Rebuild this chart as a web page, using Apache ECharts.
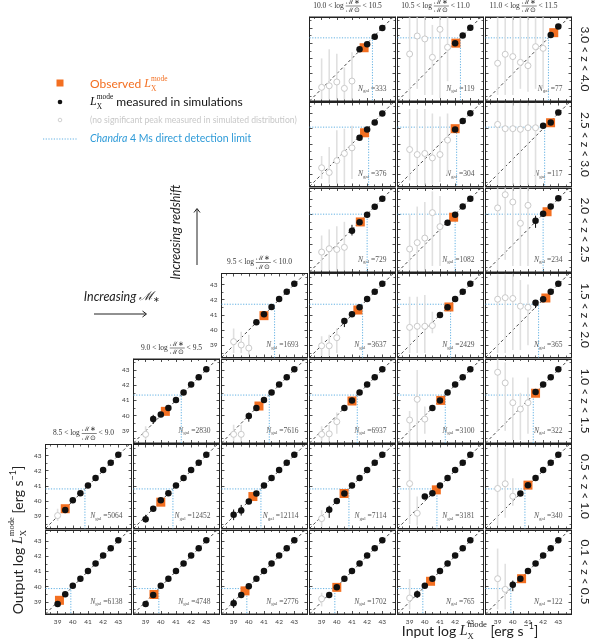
<!DOCTYPE html>
<html>
<head>
<meta charset="utf-8">
<script src="https://cdn.jsdelivr.net/npm/echarts@6/dist/echarts.min.js"></script>
<style>
html, body { margin: 0; padding: 0; background: #fff; }
#chart { width: 598px; height: 642px; }
</style>
</head>
<body>
<div id="chart"></div>
<script>
const _ = null

// input luminosities of the fake sources (log erg/s)
const inputL = [39, 39.5, 40, 40.5, 41, 41.5, 42, 42.5, 43]

// columns = stellar mass bins, rows = redshift bins (top to bottom)
const massBins = [['8.5', '9.0'], ['9.0', '9.5'], ['9.5', '10.0'], ['10.0', '10.5'], ['10.5', '11.0'], ['11.0', '11.5']]
const zBins = ['3.0 < z < 4.0', '2.5 < z < 3.0', '2.0 < z < 2.5', '1.5 < z < 2.0', '1.0 < z < 1.5', '0.5 < z < 1.0', '0.1 < z < 0.5']
// Chandra 4 Ms detection limit for each redshift row
const detLimit = [42.35, 42.1, 42.0, 41.7, 41.35, 40.8, 39.87]

// panels as [column, row]
const panelCells = [
  [0, 5], [0, 6],
  [1, 4], [1, 5], [1, 6],
  [2, 3], [2, 4], [2, 5], [2, 6],
  [3, 0], [3, 1], [3, 2], [3, 3], [3, 4], [3, 5], [3, 6],
  [4, 0], [4, 1], [4, 2], [4, 3], [4, 4], [4, 5], [4, 6],
  [5, 0], [5, 1], [5, 2], [5, 3], [5, 4], [5, 5], [5, 6]
]

const nGal = [5064, 6138, 2830, 12452, 4748, 1693, 7616, 12114, 2776,
  333, 376, 729, 3637, 6937, 7114, 1702,
  119, 304, 1082, 2429, 3100, 3181, 765,
  77, 117, 234, 365, 322, 340, 122]

// observed mode (orange squares)
const obsX = [39.5, 39.12, 40.3, 40.0, 39.55, 41.0, 40.67, 40.27, 39.75,
  41.8, 41.83, 41.55, 41.39, 41.0, 40.48, 40.0,
  42.05, 42.0, 41.9, 41.59, 41.05, 40.76, 40.38,
  42.7, 42.49, 42.26, 42.18, 41.5, 41.0, 40.58]
const obsY = [39.5, 39.1, 40.28, 39.93, 39.48, 40.95, 40.63, 40.3, 39.72,
  41.7, 41.73, 41.49, 41.32, 40.96, 40.5, 39.95,
  42.0, 42.0, 41.8, 41.52, 41.0, 40.74, 40.35,
  42.69, 42.39, 42.16, 42.11, 41.47, 41.05, 40.52]

// output mode measured in simulations (black), one value per inputL
const simOut = [
  [_, 39.42, 40.05, 40.52, 41.03, 41.52, 42.05, 42.52, 43.05],
  [38.85, 39.5, 40.05, 40.52, 41.03, 41.52, 42.05, 42.52, 43.05],
  [_, 39.78, 40.07, 40.5, 41.03, 41.52, 42.05, 42.52, 43.05],
  [38.8, 39.5, 40.05, 40.52, 41.03, 41.52, 42.05, 42.52, 43.05],
  [38.85, 39.45, 40.05, 40.52, 41.03, 41.52, 42.05, 42.52, 43.05],
  [_, _, _, 40.51, 41.05, 41.52, 42.05, 42.52, 43.05],
  [_, _, 39.97, 40.5, 41.03, 41.52, 42.05, 42.52, 43.05],
  [39.1, 39.38, 39.97, 40.5, 41.03, 41.52, 42.05, 42.52, 43.05],
  [38.9, 39.45, 40.03, 40.52, 41.03, 41.52, 42.05, 42.52, 43.05],
  [_, _, _, _, _, 41.6, 41.93, 42.42, 43.0],
  [_, _, _, _, _, 41.4, 41.95, 42.4, 43.0],
  [_, _, _, _, 40.91, 41.47, 41.97, 42.48, 43.02],
  [_, _, _, 40.6, 41.05, 41.5, 42.05, 42.52, 43.05],
  [_, _, _, 40.5, 41.0, 41.52, 42.05, 42.52, 43.05],
  [_, 39.43, 40.0, 40.5, 41.03, 41.52, 42.05, 42.52, 43.05],
  [_, 39.45, 39.95, 40.52, 41.03, 41.52, 42.05, 42.52, 43.05],
  [_, _, _, _, _, _, 41.99, 42.5, 43.02],
  [_, _, _, _, _, _, 41.95, 42.5, 43.02],
  [_, _, _, _, _, 41.44, 41.97, 42.5, 43.02],
  [_, _, _, _, 41.0, 41.5, 42.05, 42.52, 43.05],
  [_, _, _, 40.5, 41.0, 41.52, 42.05, 42.52, 43.05],
  [_, _, 40.3, 40.52, 41.03, 41.52, 42.05, 42.52, 43.05],
  [_, 39.5, 40.06, 40.52, 41.03, 41.52, 42.05, 42.52, 43.05],
  [_, _, _, _, _, _, _, 42.54, 43.1],
  [_, _, _, _, _, _, 42.19, 42.4, 43.07],
  [_, _, _, _, _, 41.57, 42.03, 42.5, 43.05],
  [_, _, _, _, _, 41.8, 42.03, 42.52, 43.05],
  [_, _, _, _, _, 41.55, 42.05, 42.52, 43.05],
  [_, _, _, 40.5, 41.05, 41.52, 42.05, 42.52, 43.05],
  [_, _, 40.12, 40.52, 41.03, 41.52, 42.05, 42.52, 43.05]
]

// error bars on the black points: [input, low, high]
const simErr = [
  [], [], [[39.5, 39.45, 40.05]], [[39, 38.6, 39.1]], [],
  [], [[40, 39.6, 40.2]], [[39, 38.75, 39.45], [39.5, 39.05, 39.75]], [[39, 38.6, 39.2]],
  [], [], [[41, 40.6, 41.3]], [[40.5, 40.2, 40.8]], [], [[39.5, 38.9, 39.7]], [],
  [], [], [], [], [], [], [[39.5, 39.25, 39.75]],
  [], [], [[41.5, 41.1, 41.9]], [[41.5, 41.45, 41.95]], [], [], [[40, 39.7, 40.4]]
]

// no significant peak (grey): [input, output, low, high]
const noPeak = [
  [[39, 39.05, 38.7, 39.5]],
  [],
  [[39, 38.77, 38.4, 39.3]],
  [],
  [],
  [[39, 39.24, 38.5, 40.1], [39.5, 39.02, 38.5, 39.9], [40, 38.82, 38.4, 39.7]],
  [[39, 38.77, 38.3, 39.4], [39.5, 38.77, 38.3, 39.4]],
  [],
  [],
  [[39, 39.1, 38.3, 41.0], [39.5, 39.2, 38.3, 41.6], [40, 39.45, 38.3, 41.3], [40.5, 39.03, 38.3, 40.4], [41, 39.51, 38.3, 41.4]],
  [[39, 39.43, 38.7, 40.2], [39.5, 39.12, 38.4, 40.8], [40, 39.9, 38.4, 41.9], [40.5, 40.37, 38.4, 42.0], [41, 40.74, 38.7, 42.2]],
  [[39, 39.51, 38.3, 40.6], [39.5, 39.73, 38.3, 41.0], [40, 39.68, 38.3, 41.2], [40.5, 39.82, 38.3, 41.5]],
  [[39, 38.97, 38.3, 39.6], [39.5, 38.97, 38.3, 39.7], [40, 39.5, 38.5, 40.1]],
  [[39, 38.77, 38.3, 39.3], [39.5, 38.8, 38.3, 39.4], [40, 39.6, 38.8, 40.2]],
  [[39, 38.85, 38.3, 39.4]],
  [[39, 39.2, 38.7, 39.6]],
  [[39, 41.29, 38.3, 43.7], [39.5, 42.47, 39.0, 43.7], [40, 42.28, 38.6, 43.7], [40.5, 41.07, 38.6, 43.2], [41, 42.91, 38.4, 43.7], [41.5, 41.73, 39.5, 43.7]],
  [[39, 40.63, 38.6, 43.3], [39.5, 40.3, 38.3, 43.3], [40, 40.37, 38.3, 43.3], [40.5, 40.08, 38.3, 43.0], [41, 40.3, 38.5, 42.8], [41.5, 41.25, 39.0, 43.0]],
  [[39, 39.71, 38.3, 42.0], [39.5, 40.13, 38.3, 42.5], [40, 40.43, 38.3, 42.8], [40.5, 42.1, 38.6, 43.5], [41, 41.18, 38.6, 43.2]],
  [[39, 40.18, 38.5, 42.2], [39.5, 40.25, 38.5, 42.2], [40, 40.25, 38.5, 42.3], [40.5, 40.3, 39.8, 41.2]],
  [[39, 39.71, 38.3, 40.3], [39.5, 41.07, 38.3, 43.0], [40, 39.77, 38.8, 40.6]],
  [[39, 41.15, 38.5, 43.5], [39.5, 39.2, 38.4, 40.3]],
  [[39, 39.25, 38.5, 40.5]],
  [[39, 40.68, 38.6, 43.7], [39.5, 41.27, 38.6, 43.7], [40, 41.12, 38.6, 43.7], [40.5, 40.74, 39.0, 43.7], [41, 40.52, 38.8, 43.7], [41.5, 41.77, 39.0, 43.7], [42, 41.66, 39.0, 43.7]],
  [[39, 42.28, 38.3, 43.7], [39.5, 42.0, 38.3, 43.7], [40, 42.0, 38.3, 43.7], [40.5, 41.96, 38.3, 43.7], [41, 42.06, 38.3, 43.7], [41.5, 42.06, 38.3, 43.7]],
  [[39, 42.41, 38.3, 43.7], [39.5, 43.28, 39.0, 43.7], [40, 42.8, 38.6, 43.7], [40.5, 41.4, 38.6, 43.7], [41, 42.58, 38.6, 43.7]],
  [[39, 42.03, 38.5, 43.7], [39.5, 42.13, 38.5, 43.7], [40, 42.08, 38.7, 43.7], [40.5, 41.57, 38.7, 43.3], [41, 41.5, 39.0, 43.0]],
  [[39, 42.85, 39.0, 43.7], [39.5, 42.15, 39.0, 43.5], [40, 40.85, 38.4, 42.5], [40.5, 40.43, 38.4, 41.5], [41, 40.85, 38.8, 42.5]],
  [[39, 40.83, 38.4, 43.5], [39.5, 41.14, 38.9, 43.5], [40, 40.32, 39.7, 41.5]],
  [[39, 40.52, 38.5, 42.5], [39.5, 39.82, 38.5, 41.5]]
]

// layout
const LEFT0 = 45.5, TOP0 = 17, STEP_X = 88, STEP_Y = 85.5, W = 86, H = 84
const XMIN = 38.2, XMAX = 43.87, YMIN = 38.2, YMAX = 43.72
const ORANGE = '#f36f21', BLUE = '#62b1e3', GREY = '#c4c4c4', GREY_BAR = '#e0e0e0'
const SANS = 'Lato', SERIF = 'Liberation Serif'

const colLeft = c => LEFT0 + c * STEP_X
const rowTop = r => TOP0 + r * STEP_Y

const measureCtx = document.createElement('canvas').getContext('2d')
function measure (t, size, family, style) {
  measureCtx.font = `${style || 'normal'} ${size}px ${family}`
  return measureCtx.measureText(t).width
}

// lay out text pieces left to right, a piece with under: true sits below the previous one
function mathText (pieces, x, y, opts) {
  const kids = []
  let pen = 0
  let lastX = 0
  pieces.forEach(p => {
    const fam = p.family || opts.family
    const size = p.size || opts.size
    const w = measure(p.t, size, fam, p.style)
    const px = p.under ? lastX : pen
    kids.push({
      type: 'text', x: px, y: p.dy || 0,
      style: { text: p.t, fontSize: size, fontFamily: fam, fontStyle: p.style || 'normal', fill: p.color || opts.color, align: 'left', verticalAlign: 'middle' }
    })
    if (!p.under) lastX = pen
    pen = Math.max(pen, px + w)
  })
  const shift = opts.align === 'center' ? pen / 2 : (opts.align === 'right' ? pen : 0)
  kids.forEach(k => { k.x -= shift })
  return { type: 'group', x, y, rotation: opts.rotation || 0, children: kids, silent: true }
}

function massTitle (lo, hi, cx, cy) {
  const fs = 7.5, ff = 6.5
  const left = `${lo} < log `, right = ` < ${hi}`
  const wl = measure(left, fs, SERIF), wr = measure(right, fs, SERIF)
  const wf = Math.max(measure('ℳ∗', ff, SERIF), measure('ℳ⊙', ff, SERIF)) + 1
  const x0 = cx - (wl + wf + wr) / 2
  const st = (text, size) => ({ text, fontSize: size, fontFamily: SERIF, fill: '#333', verticalAlign: 'middle' })
  return {
    type: 'group', silent: true,
    children: [
      { type: 'text', x: x0, y: cy, style: Object.assign(st(left, fs), { align: 'left' }) },
      { type: 'text', x: x0 + wl + wf / 2, y: cy - 4, style: Object.assign(st('ℳ∗', ff), { align: 'center' }) },
      { type: 'line', shape: { x1: x0 + wl, y1: cy, x2: x0 + wl + wf, y2: cy }, style: { stroke: '#333', lineWidth: 0.6 } },
      { type: 'text', x: x0 + wl + wf / 2, y: cy + 4.5, style: Object.assign(st('ℳ⊙', ff), { align: 'center' }) },
      { type: 'text', x: x0 + wl + wf, y: cy, style: Object.assign(st(right, fs), { align: 'left' }) }
    ]
  }
}

function axis (i, position, showLabel, min, max) {
  return {
    type: 'value', gridIndex: i, position, min, max, splitNumber: 5,
    axisLine: { show: true, onZero: false, lineStyle: { color: '#222', width: 1 } },
    axisTick: { show: true, inside: true, length: 3, lineStyle: { color: '#222', width: 0.8 } },
    minorTick: { show: true, splitNumber: 2, length: 2, lineStyle: { color: '#222', width: 0.7 } },
    splitLine: { show: false },
    axisLabel: {
      show: showLabel, fontSize: 6.5, color: '#444', margin: 4, fontFamily: SANS,
      formatter: v => (Math.abs(v - Math.round(v)) < 1e-6 ? String(Math.round(v)) : '')
    }
  }
}

function errSeries (i, data, color, width, z) {
  return {
    type: 'custom', xAxisIndex: 2 * i, yAxisIndex: 2 * i, data, silent: true, clip: true, z,
    encode: { x: 0, y: [1, 2] },
    renderItem: (params, api) => {
      const a = api.coord([api.value(0), api.value(1)])
      const b = api.coord([api.value(0), api.value(2)])
      return { type: 'line', shape: { x1: a[0], y1: a[1], x2: b[0], y2: b[1] }, style: { stroke: color, lineWidth: width } }
    }
  }
}

const grid = []
const xAxis = []
const yAxis = []
const series = []
const graphic = []

// leftmost panel of the lower rows carries y labels, bottom row carries x labels
const yLabelPanels = ['2,3', '1,4', '0,5', '0,6']

panelCells.forEach(([c, r], i) => {
  const left = colLeft(c)
  const top = rowTop(r)
  grid.push({ left, top, width: W, height: H, show: true, borderColor: '#222', borderWidth: 1, backgroundColor: '#fff' })
  xAxis.push(axis(i, 'bottom', r === 6, XMIN, XMAX), axis(i, 'top', false, XMIN, XMAX))
  yAxis.push(axis(i, 'left', yLabelPanels.includes(c + ',' + r), YMIN, YMAX), axis(i, 'right', false, YMIN, YMAX))

  const ax = { xAxisIndex: 2 * i, yAxisIndex: 2 * i }
  const lim = detLimit[r]

  // one-to-one line
  series.push(Object.assign({
    type: 'line', data: [[XMIN, YMIN], [YMAX, YMAX]], symbol: 'none', silent: true, z: 1,
    lineStyle: { color: '#333', width: 0.9, type: [3, 2.5] }
  }, ax))
  // detection limit
  series.push(Object.assign({
    type: 'line', data: [[XMIN, lim], [lim, lim], [lim, YMIN]], symbol: 'none', silent: true, z: 1,
    lineStyle: { color: BLUE, width: 1, type: [1.2, 1.5] }
  }, ax))

  series.push(errSeries(i, noPeak[i].map(p => [p[0], p[2], p[3]]), GREY_BAR, 1.6, 2))
  series.push(Object.assign({
    type: 'scatter', data: noPeak[i].map(p => [p[0], p[1]]), symbol: 'circle', symbolSize: 6, silent: true, z: 3,
    itemStyle: { color: '#fff', borderColor: GREY, borderWidth: 0.9, opacity: 1 }
  }, ax))
  series.push(Object.assign({
    type: 'scatter', data: [[obsX[i], obsY[i]]], symbol: 'rect', symbolSize: 9, silent: true, z: 4,
    itemStyle: { color: ORANGE, opacity: 1 }
  }, ax))
  series.push(errSeries(i, simErr[i], '#111', 1, 5))
  series.push(Object.assign({
    type: 'scatter', symbol: 'circle', symbolSize: 6.5, silent: true, z: 6,
    data: inputL.map((x, k) => (simOut[i][k] === null ? null : [x, simOut[i][k]])).filter(d => d),
    itemStyle: { color: '#111', opacity: 1 }
  }, ax))

  // galaxy count
  graphic.push(mathText([
    { t: 'N', style: 'italic' },
    { t: 'gal', size: 5, dy: 1.8 },
    { t: ' =' + nGal[i] }
  ], left + W - 9, top + H - 12, { family: SERIF, size: 7.5, color: '#555', align: 'right' }))
})

// column titles above the highest panel of each column
const topRow = [5, 4, 3, 0, 0, 0]
massBins.forEach((b, c) => {
  graphic.push(massTitle(b[0], b[1], colLeft(c) + W / 2 - 5, rowTop(topRow[c]) - 11))
})

// redshift labels on the right
zBins.forEach((z, r) => {
  graphic.push({
    type: 'text', x: 585, y: rowTop(r) + H / 2, rotation: -Math.PI / 2, silent: true,
    style: { text: z, fontSize: 12, fontFamily: SANS, fill: '#222', align: 'center', verticalAlign: 'middle' }
  })
})

const lxMode = (size, color) => [
  { t: 'L', style: 'italic', family: SERIF, size, color },
  { t: 'mode', size: size * 0.62, dy: -size * 0.42, family: SERIF, color },
  { t: 'X', size: size * 0.62, dy: size * 0.38, family: SERIF, color, under: true }
]

// axis titles
graphic.push(mathText([{ t: 'Output log ' }].concat(lxMode(14), [{ t: ' [erg s' }, { t: '−1', size: 9, dy: -5 }, { t: ']' }]),
  18, 540, { family: SANS, size: 14, color: '#222', align: 'center', rotation: Math.PI / 2 }))
graphic.push(mathText([{ t: 'Input log ' }].concat(lxMode(14), [{ t: ' [erg s' }, { t: '−1', size: 9, dy: -5 }, { t: ']' }]),
  470, 631, { family: SANS, size: 14, color: '#222', align: 'center' }))

// legend
graphic.push({ type: 'rect', shape: { x: 56.5, y: 79.5, width: 7, height: 7 }, style: { fill: ORANGE }, silent: true })
graphic.push(mathText([{ t: 'Observed ' }].concat(lxMode(12, ORANGE)), 90, 84, { family: SANS, size: 12, color: ORANGE }))
graphic.push({ type: 'circle', shape: { cx: 60, cy: 102, r: 2.3 }, style: { fill: '#111' }, silent: true })
graphic.push(mathText(lxMode(12, '#111').concat([{ t: ' measured in simulations' }]), 90, 102, { family: SANS, size: 12, color: '#111' }))
graphic.push({ type: 'circle', shape: { cx: 60, cy: 120, r: 1.8 }, style: { fill: '#fff', stroke: GREY, lineWidth: 0.8 }, silent: true })
graphic.push({
  type: 'text', x: 90, y: 120, silent: true,
  style: { text: '(no significant peak measured in simulated distribution)', fontSize: 8.6, fontFamily: SANS, fill: '#c8c8c8', verticalAlign: 'middle' }
})
graphic.push({ type: 'line', shape: { x1: 43, y1: 139, x2: 78, y2: 139 }, style: { stroke: BLUE, lineWidth: 1, lineDash: [1.2, 1.5] }, silent: true })
graphic.push(mathText([{ t: 'Chandra', style: 'italic' }, { t: ' 4 Ms direct detection limit' }], 90, 139,
  { family: SANS, size: 10.5, color: '#2f9bd8' }))

// direction hints
graphic.push({
  type: 'text', x: 176, y: 232, rotation: Math.PI / 2, silent: true,
  style: { text: 'Increasing redshift', fontSize: 12.5, fontStyle: 'italic', fontFamily: SANS, fill: '#222', align: 'center', verticalAlign: 'middle' }
})
graphic.push({ type: 'line', shape: { x1: 197, y1: 265, x2: 197, y2: 209 }, style: { stroke: '#222', lineWidth: 1 }, silent: true })
graphic.push({ type: 'polyline', shape: { points: [[194, 212.5], [197, 208.5], [200, 212.5]] }, style: { stroke: '#222', lineWidth: 1, fill: null }, silent: true })
graphic.push(mathText([{ t: 'Increasing ', style: 'italic' }, { t: 'ℳ', family: SERIF, style: 'italic' }, { t: '∗', size: 8, dy: 3, family: SERIF }],
  122, 297, { family: SANS, size: 12.5, color: '#222', align: 'center' }))
graphic.push({ type: 'line', shape: { x1: 94, y1: 314, x2: 146, y2: 314 }, style: { stroke: '#222', lineWidth: 1 }, silent: true })
graphic.push({ type: 'polyline', shape: { points: [[142.5, 311], [146.5, 314], [142.5, 317]] }, style: { stroke: '#222', lineWidth: 1, fill: null }, silent: true })

const chart = echarts.init(document.getElementById('chart'), null, { renderer: 'canvas' })
chart.setOption({
  animation: false,
  backgroundColor: '#fff',
  grid,
  xAxis,
  yAxis,
  series,
  graphic: { elements: graphic }
})
</script>
</body>
</html>
